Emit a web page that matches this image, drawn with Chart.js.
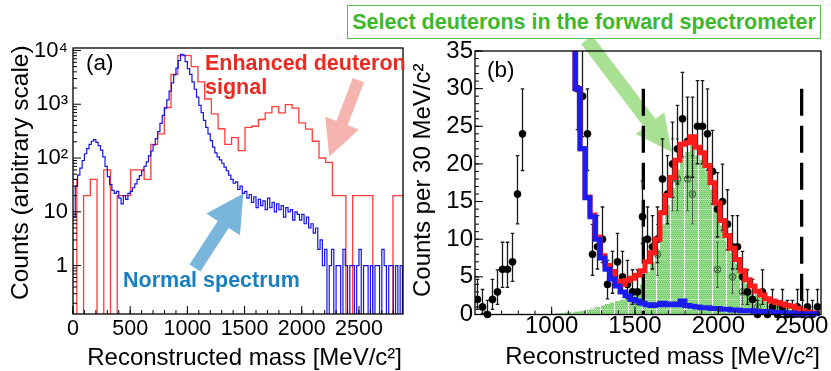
<!DOCTYPE html>
<html>
<head>
<meta charset="utf-8">
<script src="https://cdn.jsdelivr.net/npm/chart.js@4.4.1/dist/chart.umd.min.js"></script>
<style>
  body { margin: 0; background: #fff; }
  #figure { position: relative; width: 831px; height: 371px; overflow: hidden; background: #fff; }
  #figure canvas { position: absolute; top: 0; }
  #panelA { left: 0; }
  #panelB { left: 405px; }
  #selection {
    position: absolute; left: 347px; top: 5px; width: 472px; height: 32px;
    border: 1.5px solid #59c14a; background: #fff; color: #3cb82d;
    font: bold 21.5px "Liberation Sans", Arial, sans-serif;
    display: flex; align-items: center; justify-content: center; white-space: nowrap;
  }
</style>
</head>
<body>
<div id="figure">
  <canvas id="panelA" width="415" height="371"></canvas>
  <canvas id="panelB" width="426" height="371"></canvas>
  <div id="selection">Select deuterons in the forward spectrometer</div>
</div>
<script>
// --- panel (a): full mass spectrum, log counts ---
const normalBinWidth = 20;
const normalCounts = [
  8, 30, 48, 65, 90, 120, 150, 180, 205, 220,
  195, 170, 140, 105, 70, 45, 32, 25, 22, 24,
  18, 14, 20, 17, 22, 24, 28, 33, 40, 47,
  58, 70, 85, 110, 135, 175, 230, 310, 440, 620,
  850, 1200, 1750, 2500, 3500, 4700, 6500, 8500, 8200, 6200,
  4600, 3600, 2600, 1900, 1350, 950, 700, 500, 370, 280,
  210, 160, 125, 105, 92, 80, 68, 58, 48, 40,
  34, 36, 26, 30, 22, 24, 18, 21, 15, 19,
  12, 17, 13, 16, 11, 18, 12, 15, 10, 14,
  11, 13, 8, 12, 10, 11, 7, 10, 9, 7,
  9, 6, 8, 5, 6, 4, 5, 2, 3, 1,
  2, 0, 1, 2, 0, 1, 1, 0, 2, 1,
  0, 1, 1, 0, 1, 2, 0, 1, 1, 0,
  1, 0, 1, 1, 0, 2, 1, 0, 1, 1,
  0, 1, 0, 1, 0
];
const enhancedBinStart = -25;
const enhancedBinWidth = 58.8;
const enhancedCounts = [
  40, 0, 20, 40, 0, 60, 0, 20, 20, 60,
  60, 40, 180, 280, 870, 3600, 8000, 8000, 5000, 2600,
  1250, 660, 350, 180, 240, 137, 370, 390, 520, 690,
  900, 690, 980, 850, 450, 345, 205, 100, 83, 20,
  20, 0, 20, 20, 20, 0, 0, 0, 20, 20
];
const massTicksA = [0, 500, 1000, 1500, 2000, 2500];
const countTicksA = [1, 10, 100, 1000, 10000];
const countLabelsA = ['1', '10', '10²', '10³', '10⁴'];

// --- panel (b): zoom on the deuteron region ---
const fitBinStart = 1080;
const fitBinWidth = 30;
const backgroundFit = [
  45, 38, 30, 22, 15.5, 13, 10, 7.5, 6, 4.7,
  3.8, 3, 2.5, 2, 1.8, 1.5, 1.3, 1.2, 1.3, 1.5,
  1.3, 1.4, 1.3, 1.8, 1.2, 1.1, 1.0, 0.9, 0.9, 0.8,
  0.8, 0.7, 0.7, 0.6, 0.6, 0.5, 0.5, 0.5, 0.4, 0.4,
  0.4, 0.3, 0.3, 0.3, 0.2, 0.2, 0.1, 0.1, 0.1, 0.1, 0.1
];
const totalFit = [
  45, 38, 30, 22, 15.6, 13.2, 10.3, 7.8, 6.5, 5.7,
  4.4, 4.0, 4.5, 4.8, 5.2, 5.8, 7.0, 8.2, 10.0, 13.5,
  15.8, 18.2, 20.5, 22.6, 22.8, 23.6, 22.2, 21.5, 19.8, 17.5,
  14.8, 12.5, 10.5, 8.8, 7.3, 5.8, 4.6, 3.8, 3.1, 2.6,
  2.1, 1.8, 1.6, 1.4, 1.2, 1.1, 0.8, 0.5, 0.3, 0.2, 0.2
];
const signalBinStart = 1020;
const signalShape = [
  0.2, 0.2, 0.3, 0.3, 0.4, 0.5, 0.6, 0.8, 1.0, 1.2,
  1.4, 1.6, 1.8, 2.0, 2.2, 2.5, 3.0, 4.0, 5.6, 7.0,
  8.7, 12.0, 14.5, 16.8, 19.2, 20.8, 21.6, 22.4, 21.1, 20.6,
  18.9, 16.7, 14.0, 11.8, 9.8, 8.2, 6.7, 5.3, 4.1, 3.3,
  2.7, 2.2, 1.7, 1.5, 1.3, 1.1, 1.0, 0.9, 0.7, 0.4,
  0.2, 0.1, 0.1
];
const dataMass = [
  555, 585, 615, 645, 675, 705, 735, 765, 795, 825,
  1155, 1185, 1215, 1245, 1275, 1305, 1335, 1365, 1395, 1425,
  1455, 1485, 1515, 1545, 1575, 1605, 1635, 1665, 1695, 1725,
  1755, 1785, 1815, 1845, 1875, 1905, 1935, 1965, 1995, 2025,
  2055, 2085, 2115, 2145, 2175, 2205, 2235, 2265, 2295, 2325,
  2355, 2385, 2415, 2445, 2475, 2505, 2535, 2565, 2595
];
const dataCounts = [
  2, 1, 0, 2, 3, 6, 6, 7, 16, 24,
  30, 29, 24, 8, 9, 10, 4, 5, 7, 5,
  4, 3, 3, 13, 10, 9, 10, 18, 16, 20,
  22, 26, 23, 23, 25, 25, 24, 19, 14, 15,
  12, 9, 9, 5, 3, 2, 0, 3, 0, 1,
  0, 1, 0, 0, 1, 0, 1, 0, 1
];
const signalMass = [1485, 1635, 1725, 1755, 1815, 1845, 1995, 2085, 2145, 2175, 2205, 2235, 2325, 2385];
const signalCounts = [3, 8, 18, 18, 18, 16, 6, 5, 3, 3, 2, 1, 1, 1];
const cutMass = [1550, 2500];
const cutHeight = 30;
const massTicksB = [1000, 1500, 2000, 2500];
const countTicksB = [0, 5, 10, 15, 20, 25, 30, 35];

const FONT = '"Liberation Sans", Arial, Helvetica, sans-serif';
const B_LEFT = 405;     // page x of the panel (b) canvas
const LOG_FLOOR = 0.01; // empty bins are drawn below the log axis, like ROOT does

function histogramPoints(start, width, counts, floor) {
  const pts = counts.map((c, i) => ({ x: start + i * width, y: floor && c <= 0 ? floor : c }));
  pts.push({ x: start + counts.length * width, y: pts[pts.length - 1].y });
  return pts;
}
function pointsOf(xs, ys) { return xs.map((x, i) => ({ x, y: ys[i] })); }
function steps(from, to, step) { const out = []; for (let v = from; v <= to + 1e-9; v += step) out.push(v); return out; }

// Gehrels approximation of the 68% Poisson interval (what ROOT draws)
function poissonLow(n) { return n > 0 ? n - Math.sqrt(n - 0.25) : 0; }
function poissonHigh(n) { return n + 1 + Math.sqrt(n + 0.75); }

const errorBars = {
  id: 'errorBars',
  beforeDatasetDraw(chart, args) {
    const ds = chart.data.datasets[args.index];
    if (!ds.errorBar) return;
    const { ctx, chartArea: a } = chart;
    const y = chart.scales.y;
    const c = ds.errorBar.cap;
    ctx.save();
    ctx.beginPath();
    ctx.rect(a.left, a.top, a.right - a.left, a.bottom - a.top);
    ctx.clip();
    ctx.strokeStyle = ds.errorBar.color;
    ctx.lineWidth = ds.errorBar.width;
    ctx.beginPath();
    args.meta.data.forEach((pt, i) => {
      const n = ds.data[i].y;
      const top = y.getPixelForValue(poissonHigh(n));
      const bottom = y.getPixelForValue(poissonLow(n));
      ctx.moveTo(pt.x, top); ctx.lineTo(pt.x, bottom);
      ctx.moveTo(pt.x - c, top); ctx.lineTo(pt.x + c, top);
      ctx.moveTo(pt.x - c, bottom); ctx.lineTo(pt.x + c, bottom);
    });
    ctx.stroke();
    ctx.restore();
  }
};

function drawArrow(chart, arrow) {
  const { ctx, scales: { x, y } } = chart;
  const x0 = x.getPixelForValue(arrow.from[0]), y0 = y.getPixelForValue(arrow.from[1]);
  const x1 = x.getPixelForValue(arrow.to[0]), y1 = y.getPixelForValue(arrow.to[1]);
  const len = Math.hypot(x1 - x0, y1 - y0);
  const ux = (x1 - x0) / len, uy = (y1 - y0) / len, nx = -uy, ny = ux;
  const bx = x1 - ux * arrow.headLength, by = y1 - uy * arrow.headLength;
  const s = arrow.shaft / 2, h = arrow.head / 2;
  ctx.save();
  ctx.fillStyle = arrow.color;
  ctx.beginPath();
  ctx.moveTo(x0 + nx * s, y0 + ny * s);
  ctx.lineTo(bx + nx * s, by + ny * s);
  ctx.lineTo(bx + nx * h, by + ny * h);
  ctx.lineTo(x1, y1);
  ctx.lineTo(bx - nx * h, by - ny * h);
  ctx.lineTo(bx - nx * s, by - ny * s);
  ctx.lineTo(x0 - nx * s, y0 - ny * s);
  ctx.closePath();
  ctx.fill();
  ctx.restore();
}

function drawFrame(chart, xMajor, xMinor, yMajor, yMinor) {
  const { ctx, chartArea: a, scales: { x, y } } = chart;
  ctx.save();
  ctx.strokeStyle = '#000';
  ctx.lineWidth = 1;
  ctx.beginPath();
  xMajor.forEach(v => { const p = x.getPixelForValue(v); ctx.moveTo(p, a.bottom); ctx.lineTo(p, a.bottom - 8); });
  xMinor.forEach(v => { const p = x.getPixelForValue(v); ctx.moveTo(p, a.bottom); ctx.lineTo(p, a.bottom - 4); });
  yMajor.forEach(v => { const p = y.getPixelForValue(v); ctx.moveTo(a.left, p); ctx.lineTo(a.left + 8, p); });
  yMinor.forEach(v => { const p = y.getPixelForValue(v); ctx.moveTo(a.left, p); ctx.lineTo(a.left + 4, p); });
  ctx.stroke();
  ctx.lineWidth = 1.3;
  ctx.strokeRect(a.left, a.top, a.right - a.left, a.bottom - a.top);
  ctx.restore();
}

function text(ctx, str, x, y, font, color, align) {
  ctx.font = font;
  ctx.fillStyle = color;
  ctx.textAlign = align || 'left';
  ctx.textBaseline = 'alphabetic';
  ctx.fillText(str, x, y);
}
function upText(ctx, str, x, y, font) {
  ctx.save();
  ctx.translate(x, y);
  ctx.rotate(-Math.PI / 2);
  text(ctx, str, 0, 0, font, '#000', 'left');
  ctx.restore();
}

function scaleBase(extra) {
  return Object.assign({
    grid: { display: false, drawTicks: false },
    border: { display: false }
  }, extra);
}

// --- annotations ---
const normalArrow = { from: [1066, 0.9], to: [1489, 22], shaft: 13, head: 40, headLength: 37, color: '#7ab6dc' };
const enhancedArrow = { from: [2495, 2800], to: [2240, 106], shaft: 12, head: 36, headLength: 36, color: '#f6b4ae' };
const selectArrow = { from: [1210, 36.5], to: [1720, 21.6], shaft: 14, head: 36, headLength: 36, color: '#a9e194' };

const decorA = {
  id: 'decorA',
  beforeDatasetsDraw(chart) {
    drawArrow(chart, enhancedArrow);
    drawArrow(chart, normalArrow);
  },
  afterDraw(chart) {
    const ctx = chart.ctx;
    const minorY = [];
    [0.1, 1, 10, 100, 1000].forEach(d => { for (let k = 2; k <= 9; k++) minorY.push(d * k); });
    drawFrame(chart, massTicksA, steps(0, 2800, 100), countTicksA,
      minorY.filter(v => v > chart.scales.y.min && v < chart.scales.y.max));
    text(ctx, '(a)', 86, 70, '22.5px ' + FONT, '#000');
    text(ctx, 'Enhanced deuteron', 205, 70, 'bold 21.5px ' + FONT, '#ec2a22');
    text(ctx, 'signal', 205, 94, 'bold 21.5px ' + FONT, '#ec2a22');
    text(ctx, 'Normal spectrum', 123, 287, 'bold 21.5px ' + FONT, '#1a7fc1');
    upText(ctx, 'Counts (arbitrary scale)', 27.5, 300, '24.5px ' + FONT);
    text(ctx, 'Reconstructed mass [MeV/c²]', 402, 365, '24px ' + FONT, '#000', 'right');
  }
};

const decorB = {
  id: 'decorB',
  beforeDatasetsDraw(chart) {
    drawArrow(chart, selectArrow);
  },
  afterDraw(chart) {
    const ctx = chart.ctx;
    drawFrame(chart, massTicksB, steps(600, 2600, 100), countTicksB, steps(0, 35, 1));
    text(ctx, '(b)', 487 - B_LEFT, 77, '22.5px ' + FONT, '#000');
    upText(ctx, 'Counts per 30 MeV/c²', 430 - B_LEFT, 297, '24px ' + FONT);
    text(ctx, 'Reconstructed mass [MeV/c²]', 820 - B_LEFT, 364, '24px ' + FONT, '#000', 'right');
  }
};

// --- styles for the selected-signal histogram ---
function speckledGreen(ctx) {
  const tile = document.createElement('canvas');
  tile.width = 14; tile.height = 10;
  const g = tile.getContext('2d');
  g.fillStyle = '#97dc8d'; g.fillRect(0, 0, 14, 10);
  g.fillStyle = '#67c65d';
  for (let yy = 0; yy < 10; yy += 2)
    for (let xx = (yy / 2) % 2; xx < 14; xx += 2) g.fillRect(xx, yy, 1, 1);
  g.fillStyle = 'rgba(255,255,255,0.9)';
  g.fillRect(13, 0, 1, 10);
  for (let xx = 0; xx < 14; xx += 2) g.fillRect(xx, 9, 1, 1);
  return ctx.createPattern(tile, 'repeat');
}
function otimesMarker(color) {
  const c = document.createElement('canvas');
  c.width = 9; c.height = 9;
  const g = c.getContext('2d');
  g.strokeStyle = color; g.lineWidth = 1;
  g.beginPath(); g.arc(4.5, 4.5, 3.3, 0, 2 * Math.PI); g.stroke();
  g.beginPath(); g.moveTo(2.2, 2.2); g.lineTo(6.8, 6.8); g.moveTo(6.8, 2.2); g.lineTo(2.2, 6.8); g.stroke();
  return c;
}

const plainNumber = v => String(v);

new Chart(document.getElementById('panelA'), {
  type: 'line',
  data: {
    datasets: [
      { data: histogramPoints(0, normalBinWidth, normalCounts, LOG_FLOOR), borderColor: '#1515e8', borderWidth: 1.2,
        stepped: true, pointRadius: 0, fill: false, clip: 0 },
      { data: histogramPoints(enhancedBinStart, enhancedBinWidth, enhancedCounts, LOG_FLOOR), borderColor: '#ff3c3c', borderWidth: 1.3,
        stepped: true, pointRadius: 0, fill: false, clip: 0 }
    ]
  },
  options: {
    responsive: false, animation: false, events: [],
    layout: { padding: { left: 0, right: 12, top: 48, bottom: 0 } },
    plugins: { legend: { display: false }, tooltip: { enabled: false } },
    scales: {
      x: scaleBase({
        type: 'linear', min: 0, max: 2885,
        afterBuildTicks: s => { s.ticks = massTicksA.map(v => ({ value: v })); },
        afterFit: s => { s.height = 57; },
        ticks: { font: { family: FONT, size: 21.5, lineHeight: 1 }, color: '#000', padding: 4, maxRotation: 0,
                 autoSkip: false, callback: plainNumber }
      }),
      y: scaleBase({
        type: 'logarithmic', min: 0.126, max: 11100,
        afterBuildTicks: s => { s.ticks = countTicksA.map(v => ({ value: v })); },
        afterFit: s => { s.width = 73; },
        ticks: { font: { family: FONT, size: 22, lineHeight: 1 }, color: '#000', padding: 5, autoSkip: false,
                 callback: v => countLabelsA[countTicksA.indexOf(v)] || '' }
      })
    }
  },
  plugins: [decorA]
});

const ctxB = document.getElementById('panelB').getContext('2d');
const thickClip = { left: 0, top: 0, right: 0, bottom: 3 };

new Chart(ctxB, {
  type: 'line',
  data: {
    datasets: [
      { data: histogramPoints(fitBinStart, fitBinWidth, backgroundFit), borderColor: '#1c1cf2', borderWidth: 5,
        stepped: true, pointRadius: 0, fill: false, clip: thickClip },
      { data: histogramPoints(fitBinStart, fitBinWidth, totalFit), borderColor: '#ff1c1c', borderWidth: 5,
        stepped: true, pointRadius: 0, fill: false, clip: thickClip },
      { data: pointsOf(dataMass, dataCounts), showLine: false, pointRadius: 3.6, pointBackgroundColor: '#000',
        pointBorderColor: '#000', pointBorderWidth: 0.5, clip: { left: 0, top: 0, right: 0, bottom: 5 },
        errorBar: { color: '#1a1a1a', width: 1.3, cap: 1.8 } },
      { data: pointsOf(signalMass, signalCounts), showLine: false, pointRadius: 4, pointStyle: otimesMarker('#355f30'),
        errorBar: { color: '#4f5f4f', width: 1, cap: 1.5 } },
      ...cutMass.map(m => ({
        data: [{ x: m, y: cutHeight }, { x: m, y: 0 }], borderColor: '#000', borderWidth: 3.3,
        borderDash: [27, 10], borderCapStyle: 'butt', pointRadius: 0, fill: false
      })),
      { data: histogramPoints(signalBinStart, fitBinWidth, signalShape), stepped: true, fill: 'origin',
        backgroundColor: speckledGreen(ctxB), borderWidth: 0, pointRadius: 0, clip: 0 }
    ]
  },
  options: {
    responsive: false, animation: false, events: [],
    layout: { padding: { left: 0, right: 10, top: 51, bottom: 0 } },
    plugins: { legend: { display: false }, tooltip: { enabled: false } },
    scales: {
      x: scaleBase({
        type: 'linear', min: 540, max: 2616,
        afterBuildTicks: s => { s.ticks = massTicksB.map(v => ({ value: v })); },
        afterFit: s => { s.height = 56.5; },
        ticks: { font: { family: FONT, size: 24, lineHeight: 1 }, color: '#000', padding: 0, maxRotation: 0,
                 autoSkip: false, callback: plainNumber }
      }),
      y: scaleBase({
        type: 'linear', min: 0, max: 35,
        afterBuildTicks: s => { s.ticks = countTicksB.map(v => ({ value: v })); },
        afterFit: s => { s.width = 475 - B_LEFT; },
        ticks: { font: { family: FONT, size: 24, lineHeight: 1 }, color: '#000', padding: 2, autoSkip: false,
                 callback: plainNumber }
      })
    }
  },
  plugins: [errorBars, decorB]
});
</script>
</body>
</html>
